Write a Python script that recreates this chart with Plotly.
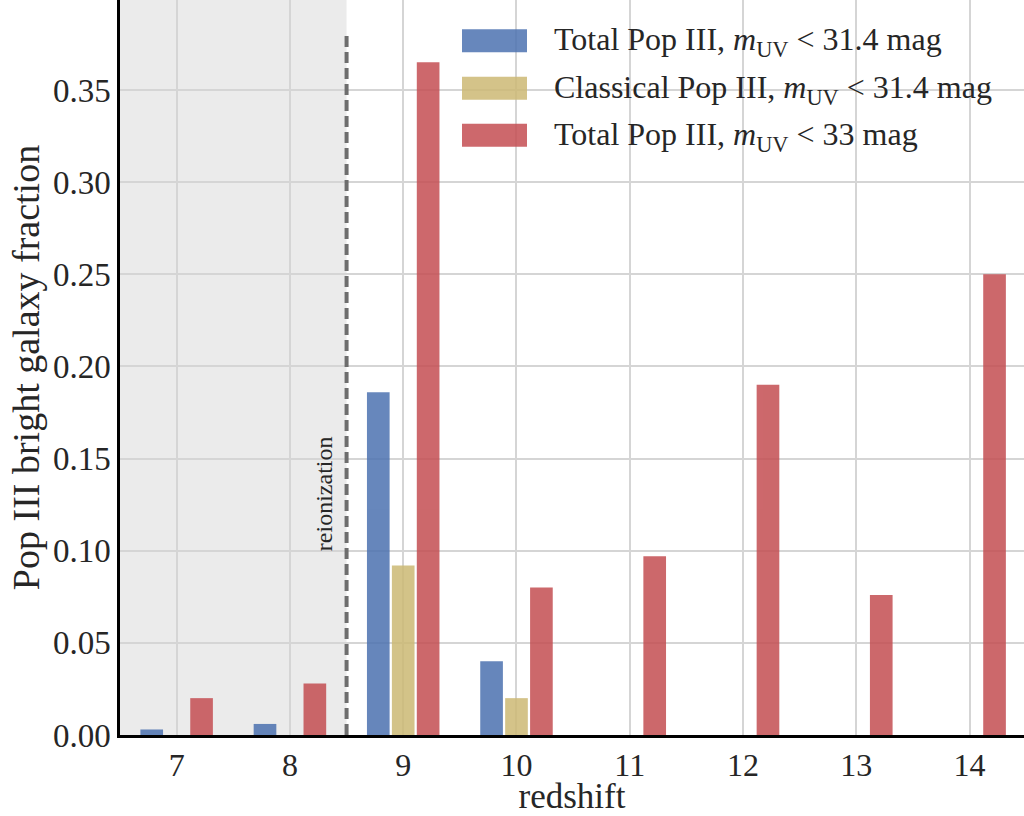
import plotly.graph_objects as go

redshift = [7, 8, 9, 10, 11, 12, 13, 14]
total_314 = [0.003, 0.006, 0.186, 0.040, 0.0, 0.0, 0.0, 0.0]
classical_314 = [0.0, 0.0, 0.092, 0.020, 0.0, 0.0, 0.0, 0.0]
total_33 = [0.020, 0.028, 0.365, 0.080, 0.097, 0.190, 0.076, 0.250]

series_names = [
    "Total Pop III, <i>m</i><sub>UV</sub> < 31.4 mag",
    "Classical Pop III, <i>m</i><sub>UV</sub> < 31.4 mag",
    "Total Pop III, <i>m</i><sub>UV</sub> < 33 mag",
]
colors = ["#4C72B0", "#CCB974", "#C44E52"]
offsets = [-0.32, -0.10, 0.12]
reion_z = 8.5

FONT = "Liberation Serif, Times New Roman, serif"
TXT = "#262626"

fig = go.Figure()
for vals, name, col, off in zip([total_314, classical_314, total_33], series_names, colors, offsets):
    fig.add_trace(go.Bar(
        x=redshift, y=vals, name=name, marker=dict(color=col, line=dict(width=0)),
        opacity=0.85, width=0.2, offset=off, showlegend=False,
    ))

# shaded pre-reionization region
fig.add_shape(type="rect", xref="x", yref="paper", x0=6.0, x1=reion_z, y0=0, y1=1,
              fillcolor="#EBEBEB", line=dict(width=0), layer="below")
# reionization line
fig.add_shape(type="line", xref="x", yref="y", x0=reion_z, x1=reion_z, y0=0, y1=0.38,
              line=dict(color="#6E6E6E", width=4, dash="11px,5px"), layer="above")
fig.add_annotation(x=reion_z, y=0.131, xref="x", yref="y", text="reionization", textangle=-90,
                   showarrow=False, xanchor="right", xshift=-8,
                   font=dict(family=FONT, size=24, color=TXT))

# custom legend
legend_px = [40.7, 88.3, 135.3]
for name, col, py in zip(series_names, colors, legend_px):
    ly = 1 - py / 735
    fig.add_shape(type="rect", xref="paper", yref="paper",
                  x0=(462 - 120) / 904, x1=(527 - 120) / 904, y0=ly - 0.0157, y1=ly + 0.0157,
                  fillcolor=col, opacity=0.85, line=dict(width=0), layer="above")
    fig.add_annotation(xref="paper", yref="paper", x=(552 - 120) / 904, y=ly, yshift=-1, text=name,
                       showarrow=False, xanchor="left", yanchor="middle",
                       font=dict(family=FONT, size=32, color=TXT))

fig.update_layout(
    width=1024, height=816,
    margin=dict(l=120, r=0, t=0, b=81),
    paper_bgcolor="white", plot_bgcolor="white",
    font=dict(family=FONT, color=TXT),
    barmode="overlay",
    xaxis=dict(
        range=[6.5, 14.48], tickmode="array", tickvals=redshift,
        ticktext=[str(z) for z in redshift],
        tickfont=dict(size=32, family=FONT, color=TXT), ticks="", ticklen=0,
        ticklabelstandoff=0,
        showgrid=True, gridcolor="#D5D5D5", gridwidth=1.5,
        showline=True, linecolor="black", linewidth=2.5,
        zeroline=False,
        title=dict(text="redshift", font=dict(size=35, family=FONT, color=TXT), standoff=2),
    ),
    yaxis=dict(
        range=[0, 0.3988], tickmode="array",
        tickvals=[0, 0.05, 0.10, 0.15, 0.20, 0.25, 0.30, 0.35],
        ticktext=["0.00", "0.05", "0.10", "0.15", "0.20", "0.25", "0.30", "0.35"],
        tickfont=dict(size=33, family=FONT, color=TXT), ticks="", ticklen=0,
        showgrid=True, gridcolor="#D5D5D5", gridwidth=1.5,
        showline=True, linecolor="black", linewidth=2.5,
        zeroline=False,
        title=dict(text="Pop III bright galaxy fraction", font=dict(size=38, family=FONT, color=TXT), standoff=2),
    ),
)

fig.write_html("out.html")
